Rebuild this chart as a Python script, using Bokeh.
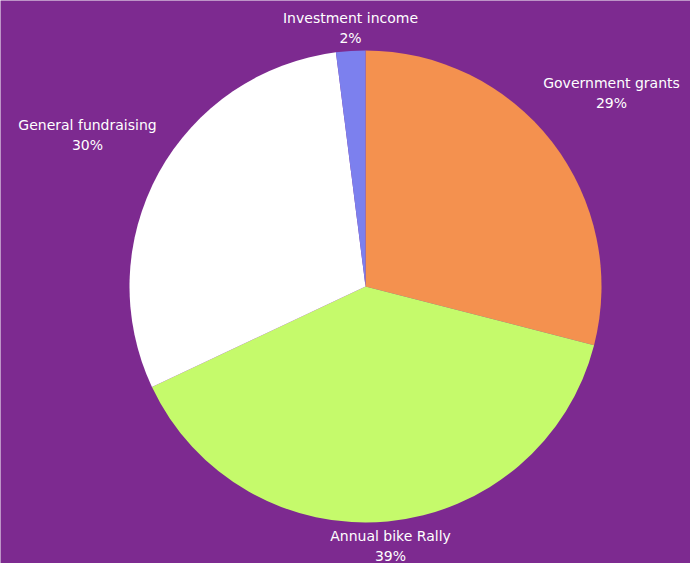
import math
from bokeh.plotting import figure
from bokeh.models import ColumnDataSource
from bokeh.core.properties import value
from bokeh.embed import file_html
from bokeh.resources import INLINE

categories = ["Government grants", "Annual bike Rally", "General fundraising", "Investment income"]
shares = [29, 39, 30, 2]
colors = ["#F4914F", "#C5FA6B", "#FFFFFF", "#7C80EE"]

# label anchor offsets from pie centre (layout only)
label_dx = [246, 25, -278, -15]
label_dy = [204, -249, 162, 269]
line_gap = 20

BG = "#7D2A90"
W, H = 690, 563
cx, cy = 365, 286  # centre in figure pixels from top-left
R = 236

total = sum(shares)
starts, ends = [], []
a = math.pi / 2
for v in shares:
    span = 2 * math.pi * v / total
    starts.append(a - span)
    ends.append(a)
    a -= span

src = ColumnDataSource(dict(cat=categories, start=starts, end=ends, color=colors,
                            pct=[f"{round(100 * v / total)}%" for v in shares],
                            lx=label_dx, ly=label_dy,
                            ly2=[y - line_gap for y in label_dy]))

p = figure(width=W, height=H, x_range=(-cx, W - cx), y_range=(-(H - cy), cy),
           output_backend="svg", toolbar_location=None, min_border=0,
           background_fill_color=BG, border_fill_color=BG, outline_line_color=None)
p.axis.visible = False
p.grid.visible = False

p.wedge(x=0, y=0, radius=R, start_angle="start", end_angle="end", fill_color="color",
        line_color=None, source=src)

p.text(x="lx", y="ly", text="cat", source=src, text_align="center", text_baseline="middle",
       text_color="#FFFFFF", text_font=value("DejaVu Sans"), text_font_size="14px")
p.text(x="lx", y="ly2", text="pct", source=src, text_align="center", text_baseline="middle",
       text_color="#FFFFFF", text_font=value("DejaVu Sans"), text_font_size="14px")

html = file_html(p, INLINE)
html = html.replace("<body>", f'<body style="margin:0;background:{BG};">', 1)
open("out.html", "w").write(html)
